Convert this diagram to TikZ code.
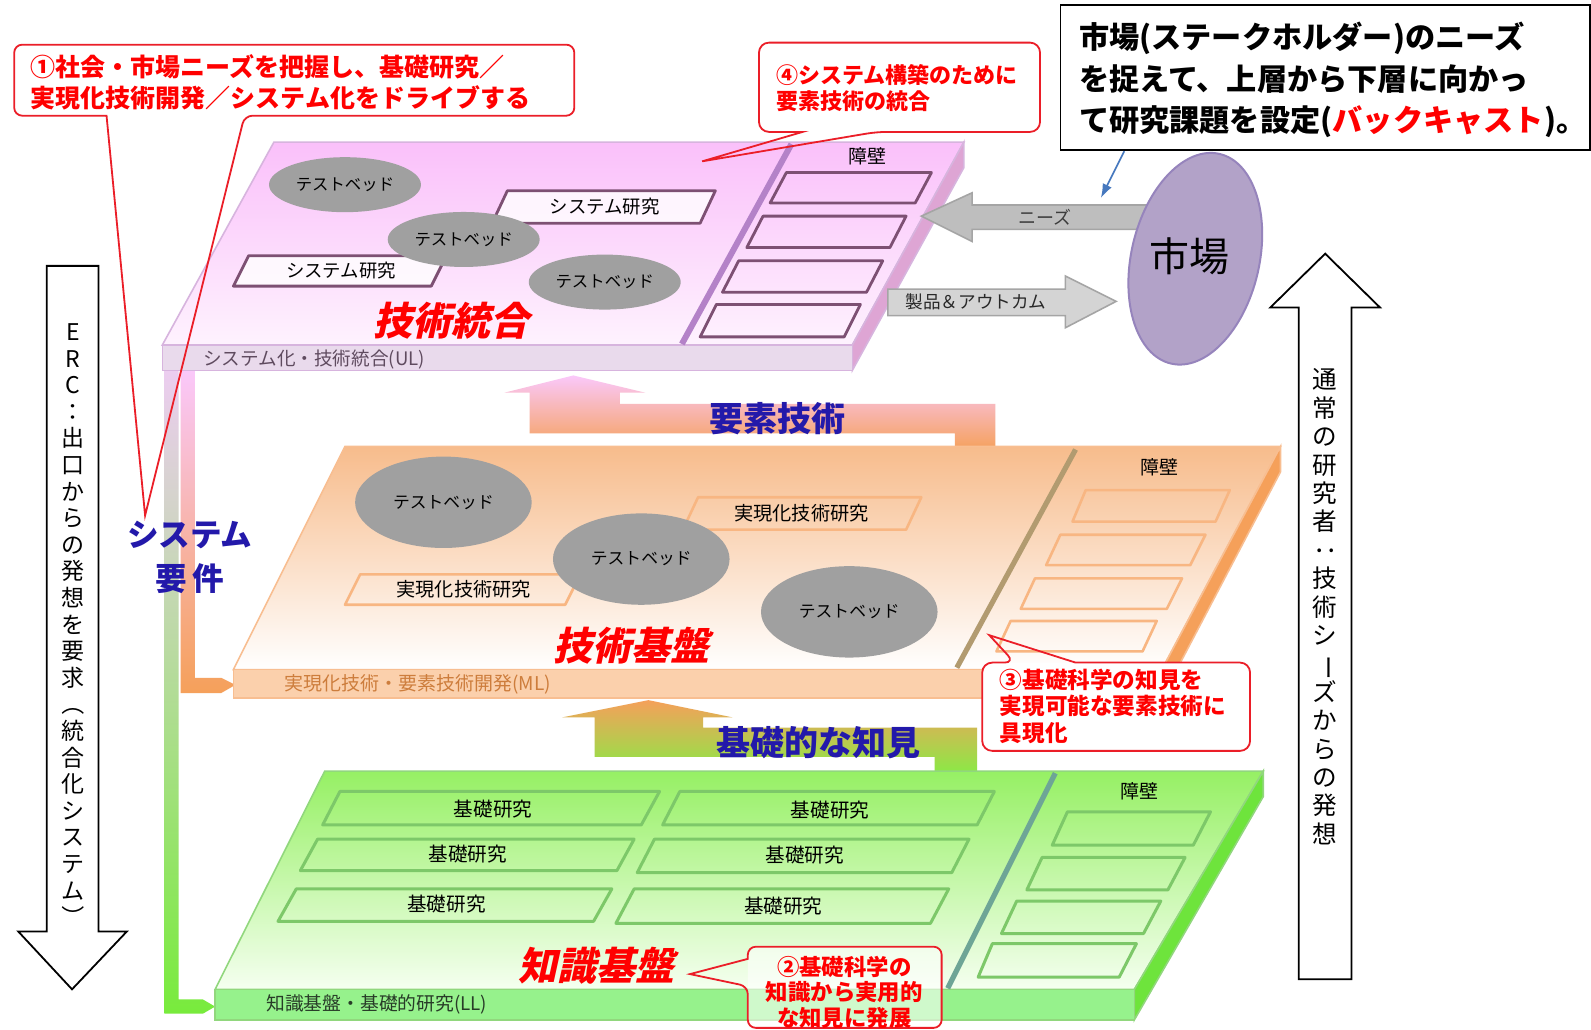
\documentclass[tikz,border=0pt]{standalone}
\usepackage{fontspec}
\setmainfont{Noto Sans CJK JP}
\newfontfamily\jpsl{Noto Sans CJK JP}[FakeSlant=0.22]
\usetikzlibrary{shapes.geometric,arrows.meta}
\newcommand\fsz[2]{\fontsize{#1}{#2}\selectfont}
\newcommand\vr[1]{\rotatebox[origin=c]{-90}{#1}}
\definecolor{pktop}{RGB}{250,192,250}
\definecolor{pkbot}{RGB}{254,242,254}
\definecolor{pkedge}{RGB}{215,180,222}
\definecolor{pkfront}{RGB}{233,218,236}
\definecolor{pkside}{RGB}{222,165,212}
\definecolor{pkdiv}{RGB}{180,130,200}
\definecolor{pkbox}{RGB}{125,80,115}
\definecolor{ortop}{RGB}{247,188,140}
\definecolor{oredge}{RGB}{248,190,145}
\definecolor{orfront}{RGB}{251,208,172}
\definecolor{orside}{RGB}{245,160,90}
\definecolor{ordiv}{RGB}{178,155,112}
\definecolor{orbox}{RGB}{248,182,130}
\definecolor{grtop}{RGB}{150,240,100}
\definecolor{grbot}{RGB}{245,255,240}
\definecolor{gredge}{RGB}{145,215,125}
\definecolor{grfront}{RGB}{150,242,140}
\definecolor{grside}{RGB}{110,228,60}
\definecolor{grdiv}{RGB}{110,165,150}
\definecolor{grbox}{RGB}{125,200,105}
\definecolor{tbgray}{RGB}{160,160,160}
\definecolor{calred}{RGB}{235,30,40}
\definecolor{txtred}{RGB}{255,0,0}
\definecolor{navy}{RGB}{35,25,170}
\definecolor{mkt}{RGB}{178,162,200}
\definecolor{mktedge}{RGB}{150,132,188}
\definecolor{arrgray}{RGB}{190,190,190}
\definecolor{arrgray2}{RGB}{212,212,212}
\definecolor{arredge}{RGB}{165,165,165}
\definecolor{notblue}{RGB}{70,120,190}
\definecolor{barpink}{RGB}{250,200,250}
\definecolor{barlav}{RGB}{236,205,240}
\definecolor{barmidg}{RGB}{200,225,185}
\definecolor{bargreen}{RGB}{120,235,60}
\definecolor{barsalmon}{RGB}{242,170,175}
\definecolor{barorange}{RGB}{245,160,90}
\definecolor{ultext}{RGB}{95,75,95}
\definecolor{mltext}{RGB}{205,125,60}
\definecolor{lltext}{RGB}{40,60,40}
\begin{document}
\begin{tikzpicture}[x=0.5074pt,y=-0.5074pt,
  tbsmall/.style={ellipse, fill=tbgray, inner sep=0pt, minimum width=76pt, minimum height=27.5pt, font=\fsz{8.2}{9}},
  tbbig/.style={ellipse, fill=tbgray, inner sep=0pt, minimum width=88.3pt, minimum height=45.7pt, font=\fsz{8.4}{9}},
  boxtext/.style={inner sep=0pt, font=\fsz{9.5}{11}},
  pbox/.style={draw=pkbox, line width=1.4pt, line join=round},
  obox/.style={draw=orbox, line width=1.3pt, line join=round},
  gbox/.style={draw=grbox, line width=1.5pt, line join=round},
  bigred/.style={inner sep=0pt, text=txtred, font=\jpsl\bfseries\fsz{19.5}{22}},
  bluelbl/.style={inner sep=0pt, text=navy, font=\bfseries\fsz{17}{20}},
  callout/.style={draw=calred, line width=0.9pt},
  calltext/.style={inner sep=0pt, text=txtred, font=\bfseries\fsz{11.2}{13.3}},
  bigarrow/.style={draw=black, fill=white, line width=0.9pt, line join=miter},
  vtext/.style={inner sep=0pt, align=center}
]
\useasboundingbox[fill=white] (0,0) rectangle (1568,1015);

% ---------- big white arrows ----------
\draw[bigarrow] (46,262) -- (97,262) -- (97,918) -- (125,918) -- (71,975) -- (18,918) -- (46,918) -- cycle;
\node[vtext, font=\fsz{11.5}{13.3}] (erc) at (72,617)
 {E\\R\\C\\：\\出\\口\\か\\ら\\の\\発\\想\\を\\要\\求\\\vr{（}\\統\\合\\化\\シ\\ス\\テ\\ム\\\vr{）}};
\draw[bigarrow] (1306,250) -- (1360,303) -- (1332,303) -- (1332,965) -- (1280,965) -- (1280,303) -- (1252,303) -- cycle;
\node[vtext, font=\fsz{12.3}{14.2}] (seeds) at (1306,598)
 {通\\常\\の\\研\\究\\者\\\vr{：}\\技\\術\\シ\\\vr{ー}\\ズ\\か\\ら\\の\\発\\想};

% ---------- left connector bars ----------
\path[top color=barlav, middle color=barmidg, bottom color=bargreen]
 (162,365) -- (176,365) -- (176,985) -- (200,985) -- (212,992) -- (200,999) -- (162,999) -- cycle;
\path[top color=barpink, middle color=barsalmon, bottom color=barorange]
 (178,365) -- (192,365) -- (192,668) -- (218,668) -- (232,675) -- (218,683) -- (178,683) -- cycle;
\node[inner sep=0pt, align=center, text=navy, font=\bfseries\fsz{15.8}{21.8}] (sysreq) at (187,549) {システム\\要\,件};

% ---------- upper slab (pink) ----------
\path[draw=pkedge, line width=0.8pt, top color=pktop, bottom color=pkbot]
 (270,140) -- (950,140) -- (840,340) -- (160,340) -- cycle;
\path[draw=pkedge, line width=0.8pt, fill=pkside] (950,140) -- (950,165) -- (840,365) -- (840,340) -- cycle;
\path[draw=pkedge, line width=0.8pt, fill=pkfront] (160,340) rectangle (840,365);
\node[anchor=west, inner sep=0pt, font=\fsz{9.3}{11}, text=ultext] (ul) at (200,354) {システム化・技術統合(UL)};
\draw[pkdiv, line width=3pt] (780,142) -- (672,339);
\node[boxtext] (pkwall) at (855,154) {障壁};
\path[pbox] (775,170) -- (918,170) -- (902,200) -- (759,200) -- cycle;
\path[pbox] (752,213) -- (893,213) -- (877,244) -- (736,244) -- cycle;
\path[pbox] (728,257) -- (870,257) -- (854,288) -- (712,288) -- cycle;
\path[pbox] (706,300) -- (848,300) -- (832,332) -- (690,332) -- cycle;
\path[pbox, fill=white, fill opacity=0.8] (500,188) -- (705,188) -- (690,220) -- (485,220) -- cycle;
\node[boxtext, font=\fsz{9.2}{11}] (ps1) at (596,204) {システム研究};
\path[pbox, fill=white, fill opacity=0.8] (245,252) -- (440,252) -- (425,282) -- (230,282) -- cycle;
\node[boxtext, font=\fsz{9.2}{11}] (ps2) at (336,267) {システム研究};
\node[tbsmall] (pt1) at (340,182) {テストベッド};
\node[tbsmall] (pt2) at (457,236) {テストベッド};
\node[tbsmall] (pt3) at (596,278) {テストベッド};
\node[bigred] (ulname) at (445,316) {技術統合};

% ---------- arrow 要素技術 ----------
\path[top color=barpink, middle color={rgb,255:red,246;green,178;blue,170}, bottom color=barorange]
 (565,370) -- (636,387) -- (611,387) -- (611,398) -- (981,398) -- (981,444) -- (941,444) -- (941,427) -- (522,427) -- (522,387) -- (497,387) -- cycle;
\node[bluelbl] (yoso) at (766,413) {要素技術};

% ---------- middle slab (orange) ----------
\path[draw=oredge, line width=0.8pt, top color=ortop, bottom color=white]
 (340,440) -- (1262,440) -- (1145,660) -- (230,660) -- cycle;
\path[draw=oredge, line width=0.8pt, fill=orside] (1262,440) -- (1262,465) -- (1145,688) -- (1145,660) -- cycle;
\path[draw=oredge, line width=0.8pt, fill=orfront] (230,660) rectangle (1145,688);
\node[anchor=west, inner sep=0pt, font=\fsz{9.5}{11}, text=mltext] (ml) at (280,674) {実現化技術・要素技術開発(ML)};
\draw[ordiv, line width=2.6pt] (1060,443) -- (943,658);
\node[boxtext] (orwall) at (1143,461) {障壁};
\path[obox] (1070,483) -- (1212,483) -- (1198,514) -- (1057,514) -- cycle;
\path[obox] (1045,527) -- (1188,527) -- (1173,557) -- (1031,557) -- cycle;
\path[obox] (1020,570) -- (1165,570) -- (1150,600) -- (1006,600) -- cycle;
\path[obox] (996,612) -- (1140,612) -- (1126,642) -- (982,642) -- cycle;
\path[obox] (688,490) -- (908,490) -- (893,522) -- (673,522) -- cycle;
\node[boxtext, font=\fsz{9.6}{11}] (os1) at (790,506) {実現化技術研究};
\path[obox] (355,566) -- (572,566) -- (557,596) -- (340,596) -- cycle;
\node[boxtext, font=\fsz{9.6}{11}] (os2) at (457,581) {実現化技術研究};
\node[tbbig] (ot1) at (437,495) {テストベッド};
\node[tbbig] (ot2) at (632,551) {テストベッド};
\node[tbbig] (ot3) at (837,603) {テストベッド};
\node[bigred] (mlname) at (622,636) {技術基盤};

% ---------- arrow 基礎的な知見 ----------
\path[top color=barorange, middle color={rgb,255:red,212;green,182;blue,80}, bottom color={rgb,255:red,140;green,232;blue,70}]
 (639,690) -- (722,707) -- (693,707) -- (693,717) -- (963,717) -- (963,761) -- (921,761) -- (921,746) -- (586,746) -- (586,707) -- (554,707) -- cycle;
\node[bluelbl] (kiso) at (807,732) {基礎的な知見};

% ---------- lower slab (green) ----------
\path[draw=gredge, line width=0.8pt, top color=grtop, bottom color=grbot]
 (320,760) -- (1245,760) -- (1118,975) -- (212,975) -- cycle;
\path[draw=gredge, line width=0.8pt, fill=grside] (1245,760) -- (1245,785) -- (1118,1005) -- (1118,975) -- cycle;
\path[draw=gredge, line width=0.8pt, fill=grfront] (212,975) rectangle (1118,1005);
\node[anchor=west, inner sep=0pt, font=\fsz{9.4}{11}, text=lltext] (ll) at (262,990) {知識基盤・基礎的研究(LL)};
\draw[grdiv, line width=2.6pt] (1040,762) -- (934,974);
\node[boxtext] (grwall) at (1123,780) {障壁};
\path[gbox] (1052,800) -- (1193,800) -- (1176,833) -- (1037,833) -- cycle;
\path[gbox] (1027,845) -- (1168,845) -- (1151,877) -- (1012,877) -- cycle;
\path[gbox] (1002,888) -- (1144,888) -- (1127,920) -- (987,920) -- cycle;
\path[gbox] (978,930) -- (1120,930) -- (1103,963) -- (964,963) -- cycle;
\path[gbox] (335,780) -- (650,780) -- (632,813) -- (318,813) -- cycle;
\node[boxtext, font=\fsz{9.8}{11}] (g1) at (486,797) {基礎研究};
\path[gbox] (670,780) -- (980,780) -- (963,813) -- (653,813) -- cycle;
\node[boxtext, font=\fsz{9.8}{11}] (g2) at (818,798) {基礎研究};
\path[gbox] (313,827) -- (625,827) -- (608,858) -- (296,858) -- cycle;
\node[boxtext, font=\fsz{9.8}{11}] (g3) at (461,842) {基礎研究};
\path[gbox] (645,827) -- (955,827) -- (938,860) -- (628,860) -- cycle;
\node[boxtext, font=\fsz{9.8}{11}] (g4) at (793,843) {基礎研究};
\path[gbox] (292,876) -- (603,876) -- (585,908) -- (274,908) -- cycle;
\node[boxtext, font=\fsz{9.8}{11}] (g5) at (440,891) {基礎研究};
\path[gbox] (625,876) -- (935,876) -- (917,910) -- (607,910) -- cycle;
\node[boxtext, font=\fsz{9.8}{11}] (g6) at (772,893) {基礎研究};
\node[bigred] (llname) at (588,952) {知識基盤};

% ---------- market and arrows ----------
\path[draw=arredge, line width=0.8pt, fill=arrgray]
 (908,213) -- (958,190) -- (958,202) -- (1140,202) -- (1140,226) -- (958,226) -- (958,238) -- cycle;
\node[inner sep=0pt, font=\fsz{9}{10}, text={rgb,255:red,60;green,60;blue,60}] (needs) at (1030,214) {ニーズ};
\path[draw=arredge, line width=0.8pt, fill=arrgray2]
 (875,285) -- (1050,285) -- (1050,272) -- (1100,297) -- (1050,323) -- (1050,311) -- (875,311) -- cycle;
\node[inner sep=0pt, font=\fsz{8.8}{10}, text={rgb,255:red,40;green,40;blue,40}] (prod) at (962,297) {製品＆アウトカム};
\node[ellipse, fill=mkt, draw=mktedge, line width=1pt, minimum width=64pt, minimum height=107.6pt, rotate=-13] (market) at (1178,255) {};
\node[inner sep=0pt, font=\fsz{20}{22}] (markettext) at (1172,253) {市場};

% ---------- note box top right ----------
\draw[fill=white, line width=0.7pt] (1045,5) rectangle (1567,148);
\node[anchor=west, inner sep=0pt, align=left, font=\bfseries\fsz{15.1}{20.8}] (note) at (1063,79)
 {市場(ステークホルダー)のニーズ\\を捉えて、上層から下層に向かっ\\て研究課題を設定(\textcolor{txtred}{バックキャスト})。};
\coordinate (na) at (1108,149);
\coordinate (nb) at (1085,195);
\draw[notblue, line width=0.8pt, -{Latex[length=7pt,width=5pt]}] (na) -- (nb);

% ---------- callouts ----------
\draw[callout, rounded corners=4pt] (300,44) -- (566,44) -- (566,114) -- (241,114) [sharp corners] -- (143,508) -- (105,114) [rounded corners=4pt] -- (14,114) -- (14,44) -- cycle;
\node[calltext, anchor=west, align=left, font=\bfseries\fsz{12.5}{15.2}] (c1) at (30,81)
 {①社会・市場ニーズを把握し、基礎研究／\\実現化技術開発／システム化をドライブする};

\draw[callout, rounded corners=5pt] (900,42) -- (1025,42) -- (1025,130) -- (864,130) [sharp corners] -- (692,159) -- (791,130) [rounded corners=5pt] -- (748,130) -- (748,42) -- cycle;
\node[calltext, anchor=west, align=left, font=\bfseries\fsz{11}{13.2}] (c4) at (765,87)
 {④システム構築のために\\要素技術の統合};

\fill[white, rounded corners=5pt] (968,653) rectangle (1232,740);
\draw[callout, rounded corners=5pt] (1100,740) -- (968,740) -- (968,653) -- (1000,653) [sharp corners] -- (975,626) -- (1060,653) [rounded corners=5pt] -- (1232,653) -- (1232,740) -- cycle;
\node[calltext, anchor=west, align=left, font=\bfseries\fsz{11.3}{13.2}] (c3) at (985,696)
 {③基礎科学の知見を\\実現可能な要素技術に\\具現化};

\fill[white, fill opacity=0.55, rounded corners=4pt] (737,933) rectangle (928,1013);
\draw[callout, rounded corners=4pt] (830,933) -- (928,933) -- (928,1013) -- (737,1013) -- (737,972) [sharp corners] -- (680,960) -- (737,945) [rounded corners=4pt] -- (737,933) -- cycle;
\node[calltext, align=center, font=\bfseries\fsz{11.2}{12.6}] (c2) at (832,978)
 {②基礎科学の\\知識から実用的\\な知見に発展};
\end{tikzpicture}
\end{document}
